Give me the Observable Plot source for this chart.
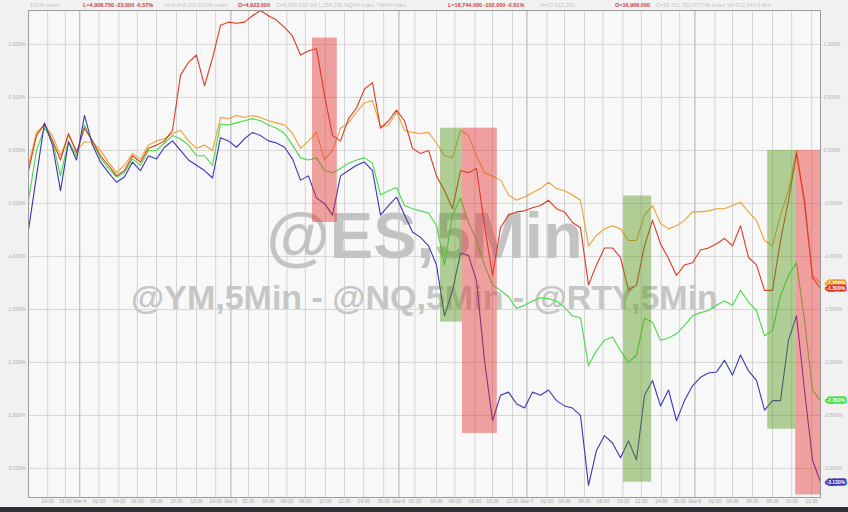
<!DOCTYPE html>
<html><head><meta charset="utf-8">
<script src="https://cdn.jsdelivr.net/npm/d3@7"></script>
<script src="https://cdn.jsdelivr.net/npm/@observablehq/plot@0.6"></script>
<style>
html,body{margin:0;padding:0;background:#f6f6f6;}
#wrap{width:848px;height:512px;position:relative;overflow:hidden;font-family:"Liberation Sans",Arial,sans-serif;}
#hdr{height:10px;position:relative;background:#f2f2f2;font-size:5.5px;line-height:10px;white-space:nowrap;}
#hdr span{position:absolute;top:0;}
.r{color:#d03a3a;font-weight:bold}
.g{color:#c4c4c4}
#bar{height:5px;background:#2e3033;}
</style></head><body>
<div id="wrap"><div id="hdr"></div><div id="chart"></div><div id="bar"></div></div>
<script>
// % change series, one value per sample (sample index 0..99)
const esOrange = [-0.14,0.17,0.24,0.14,-0.05,0.14,0.00,0.08,0.08,0.00,-0.11,-0.21,-0.14,-0.03,-0.08,0.05,0.09,0.11,0.16,0.19,0.09,0.02,0.05,0.00,0.31,0.30,0.33,0.31,0.33,0.31,0.28,0.26,0.24,0.16,0.02,0.09,0.17,-0.09,0.00,0.21,0.26,0.36,0.45,0.47,0.22,0.24,0.36,0.19,0.17,0.16,0.17,0.07,-0.05,-0.07,0.19,0.14,-0.05,-0.21,-0.24,-0.28,-0.42,-0.47,-0.44,-0.40,-0.36,-0.30,-0.36,-0.38,-0.42,-0.47,-0.90,-0.80,-0.74,-0.71,-0.74,-0.85,-0.85,-0.61,-0.52,-0.69,-0.74,-0.71,-0.66,-0.58,-0.58,-0.57,-0.55,-0.55,-0.52,-0.49,-0.58,-0.66,-0.85,-0.90,-0.61,-0.38,0.00,-0.52,-1.18,-1.25];
const nqRed = [-0.19,0.14,0.25,0.09,-0.09,0.16,-0.02,0.21,0.09,-0.05,-0.14,-0.24,-0.19,-0.05,-0.11,0.02,0.05,0.09,0.19,0.71,0.83,0.90,0.61,0.87,1.18,1.21,1.20,1.21,1.27,1.32,1.27,1.23,1.16,1.08,0.90,0.94,0.96,0.52,0.14,0.09,0.30,0.40,0.58,0.64,0.21,0.28,0.38,0.28,0.02,-0.03,0.00,-0.24,-0.38,-0.55,-0.19,-0.21,-0.17,-0.71,-1.18,-0.73,-0.61,-0.58,-0.57,-0.54,-0.52,-0.47,-0.55,-0.58,-0.68,-0.73,-1.27,-1.08,-0.92,-0.92,-1.01,-1.32,-1.27,-0.90,-0.66,-0.88,-1.02,-1.18,-1.08,-1.06,-0.94,-0.92,-0.88,-0.83,-0.90,-0.71,-1.01,-1.08,-1.32,-1.32,-0.85,-0.47,-0.03,-0.47,-1.20,-1.30];
const ymGreen = [-0.47,0.00,0.21,0.09,-0.24,0.09,-0.05,0.24,0.07,-0.07,-0.17,-0.25,-0.21,-0.08,-0.14,0.00,0.00,0.07,0.14,0.11,0.05,-0.05,-0.05,-0.14,0.25,0.24,0.26,0.28,0.30,0.28,0.24,0.21,0.16,0.05,-0.07,-0.09,-0.07,-0.19,-0.21,-0.17,-0.12,-0.09,-0.07,-0.12,-0.42,-0.38,-0.35,-0.52,-0.55,-0.57,-0.59,-0.71,-1.08,-0.61,-0.45,-0.68,-0.85,-1.08,-1.27,-1.32,-1.38,-1.49,-1.46,-1.42,-1.39,-1.40,-1.42,-1.48,-1.56,-1.58,-2.03,-1.89,-1.79,-1.76,-1.89,-2.00,-1.93,-1.58,-1.62,-1.79,-1.77,-1.73,-1.65,-1.56,-1.53,-1.51,-1.46,-1.42,-1.46,-1.32,-1.43,-1.51,-1.75,-1.70,-1.37,-1.18,-1.06,-1.60,-2.26,-2.36];
const rtyBlue = [-0.75,-0.24,0.26,0.05,-0.38,0.08,-0.09,0.33,0.05,-0.11,-0.21,-0.30,-0.25,-0.11,-0.19,-0.05,-0.08,0.03,0.09,0.00,-0.09,-0.14,-0.19,-0.26,0.12,0.09,0.03,0.11,0.17,0.14,0.09,0.07,0.03,-0.08,-0.28,-0.24,-0.45,-0.50,-0.61,-0.24,-0.19,-0.14,-0.11,-0.19,-0.61,-0.52,-0.44,-0.61,-0.77,-0.82,-0.90,-1.08,-1.56,-1.32,-0.97,-0.99,-1.23,-1.98,-2.55,-2.31,-2.28,-2.39,-2.43,-2.28,-2.31,-2.26,-2.36,-2.41,-2.43,-2.50,-3.16,-2.83,-2.69,-2.76,-2.90,-2.74,-2.92,-2.31,-2.17,-2.41,-2.26,-2.55,-2.36,-2.22,-2.14,-2.10,-2.09,-1.98,-2.12,-1.93,-2.08,-2.17,-2.45,-2.36,-2.36,-1.79,-1.56,-2.26,-2.92,-3.13];

const seriesNames = ["@ES", "@YM", "@NQ", "@RTY"];
const seriesColors = ["#eda035", "#45dc45", "#dc3a22", "#3a38b0"];
const seriesValues = [esOrange, ymGreen, nqRed, rtyBlue];

// shaded boxes (sample index, % range)
const redBoxes = [[35.5, 38.6, 1.06, -0.68], [54.25, 58.6, 0.21, -2.67], [95.9, 99.1, 0.0, -3.25]];
const greenBoxes = [[51.5, 54.25, 0.21, -1.62], [74.4, 77.9, -0.43, -3.13], [92.4, 95.9, 0.0, -2.63]];

// axis ticks
const yTicks = [1, 0.5, 0, -0.5, -1, -1.5, -2, -2.5, -3];
const xTicks = [0,2.4,4.6,6.4,8.8,11.3,13.6,16,18.5,21,23.4,25.3,27.5,30,32.3,34.6,37.1,39.5,41.9,44.4,46.3,48.3,51,53.3,55.8,58,60.5,62.3,64.8,67,69.5,71.8,74.3,76.6,79.1,81.4,83.3,85.8,88,90.5,93,95.4,97.9];
const xLabels = ["","14:00","16:00","Mar 4","02:00","04:00","06:00","08:00","10:00","12:00","14:00","Mar 5","02:00","04:00","06:00","08:00","10:00","12:00","14:00","16:00","Mar 6","02:00","04:00","06:00","08:00","10:00","12:00","Mar 7","02:00","04:00","06:00","08:00","10:00","12:00","14:00","16:00","Mar 8","02:00","04:00","06:00","08:00","10:00","12:00"];
const daySeps = [6.4, 25.3, 46.3, 62.3, 83.3];

const headerItems = [
  ["ESH4 Index", "g", 30], ["L=4,908.750  -23.000  -0.57%", "r", 83], ["H=4,948.000  ESH4 Index", "g", 165],
  ["O=4,923.000", "r", 238], ["C=4,909.500   Vol 1,254,231   NQH4 Index   YMH4 Index", "g", 276],
  ["L=16,744.000  -102.000  -0.61%", "r", 448], ["H=17,012.250", "g", 540],
  ["O=16,906.000", "r", 615], ["C=16,751.750   RTYH4 Index   Vol 612,844   5 Min", "g", 656]
];

const hdr = document.getElementById("hdr");
headerItems.forEach(([t, c, l]) => {
  const s = document.createElement("span");
  s.textContent = t; s.className = c; s.style.left = l + "px";
  hdr.appendChild(s);
});

const fmt = d => d.toFixed(3) + "%";
const labelMap = new Map(xTicks.map((t, i) => [t, xLabels[i]]));
const last = seriesValues.map((v, k) => ({name: seriesNames[k], color: seriesColors[k], v: v[v.length - 1]}));
const boxRows = (b) => b.map(([x1, x2, y1, y2]) => ({x1, x2, y1, y2}));

const chart = Plot.plot({
  width: 848, height: 497,
  marginLeft: 28, marginRight: 28, marginTop: 0, marginBottom: 10,
  style: {background: "#f1f1f1", fontFamily: "Liberation Sans, Arial, sans-serif", overflow: "visible"},
  x: {domain: [0, 99], axis: null},
  y: {domain: [-3.274, 1.32], axis: null},
  marks: [
    Plot.frame({fill: "#f8f8f8"}),
    Plot.ruleY(yTicks, {stroke: "#d6d6d6"}),
    Plot.ruleX(xTicks, {stroke: "#d3d3d3"}),
    Plot.ruleX(daySeps, {stroke: "#bdbdbd"}),
    Plot.text(["@ES,5Min"], {frameAnchor: "middle", dy: -17, fontSize: 65, fontWeight: "bold", fill: "#c3c3c3"}),
    Plot.text(["@YM,5Min - @NQ,5Min - @RTY,5Min"], {frameAnchor: "middle", dy: 44, fontSize: 34, fontWeight: "bold", fill: "#c6c6c6"}),
    ...seriesValues.map((vals, k) => Plot.line(vals, {x: (d, i) => i, y: d => d, stroke: seriesColors[k], strokeWidth: 1.1})),
    Plot.rect(boxRows(redBoxes), {x1: "x1", x2: "x2", y1: "y1", y2: "y2", fill: "#e63434", fillOpacity: 0.45}),
    Plot.rect(boxRows(greenBoxes), {x1: "x1", x2: "x2", y1: "y1", y2: "y2", fill: "#56981a", fillOpacity: 0.45}),
    Plot.frame({stroke: "#9a9a9a"}),
    Plot.axisY(yTicks, {anchor: "left", tickSize: 0, tickPadding: 3, fontSize: 5, color: "#b0b0b0", tickFormat: fmt, label: null}),
    Plot.axisY(yTicks, {anchor: "right", tickSize: 0, tickPadding: 3, fontSize: 5, color: "#b0b0b0", tickFormat: fmt, label: null}),
    Plot.axisX(xTicks, {anchor: "bottom", tickSize: 0, tickPadding: 2, fontSize: 5, color: "#a8a8a8", tickFormat: d => labelMap.get(d), label: null}),
    Plot.text(last, {x: () => 99, y: "v", text: d => fmt(d.v), dx: 6, textAnchor: "start", fontSize: 5, fill: "white", stroke: "color", strokeWidth: 3.5, strokeLinejoin: "round", paintOrder: "stroke", fontWeight: "bold"})
  ]
});
document.getElementById("chart").appendChild(chart);
</script>
</body></html>
